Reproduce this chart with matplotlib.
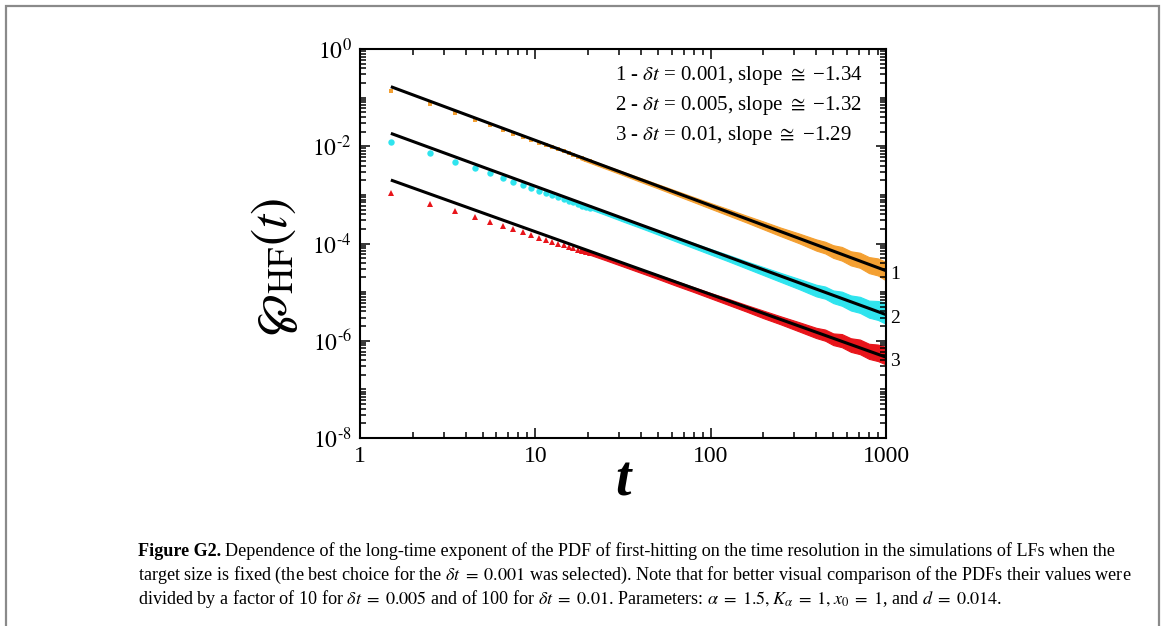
import matplotlib
matplotlib.use("Agg")
import math
import matplotlib.pyplot as plt
from matplotlib.patches import Rectangle
from matplotlib.ticker import FixedLocator, LogLocator, FuncFormatter, NullFormatter

plt.rcParams['font.family'] = ['Liberation Serif', 'DejaVu Serif']
plt.rcParams['mathtext.fontset'] = 'stix'

# early, well separated points (t = n + 1/2)
t_early = [1.5, 2.5, 3.5, 4.5, 5.5, 6.5, 7.5, 8.5, 9.5, 10.5,
           11.5, 12.5, 13.5, 14.5, 15.5, 16.5, 17.5, 18.5, 19.5, 20.5]
pdf1_early = [0.1378, 0.0738, 0.0486, 0.0347, 0.0271, 0.0219, 0.01827, 0.01563, 0.01346, 0.01188,
              0.01052, 0.00952, 0.00859, 0.00780, 0.00713, 0.00656, 0.00606, 0.00563, 0.00524, 0.00490]
pdf2_early = [0.01233, 0.00713, 0.00481, 0.00362, 0.00278, 0.002255, 0.001867, 0.001583, 0.001382, 0.001228,
              0.001089, 0.000985, 0.000890, 0.000819, 0.000750, 0.000699, 0.000646, 0.000600, 0.000567, 0.000530]
pdf3_early = [1.070e-3, 6.58e-4, 4.67e-4, 3.57e-4, 2.83e-4, 2.317e-4, 1.975e-4, 1.704e-4, 1.494e-4, 1.328e-4,
              1.197e-4, 1.088e-4, 9.97e-5, 9.19e-5, 8.53e-5, 7.98e-5, 7.47e-5, 7.03e-5, 6.65e-5, 6.23e-5]

# dense, noisy part: upper / lower edge of the cloud of points
t_band = [18, 25, 32, 40, 50, 63, 80, 100, 125, 160, 200,
          250, 320, 400, 450, 500, 560, 630, 710, 800, 900, 1000]
pdf1_hi = [6.22e-3, 4.06e-3, 2.945e-3, 2.211e-3, 1.658e-3, 1.231e-3, 9.04e-4, 6.78e-4, 5.14e-4, 3.74e-4, 2.837e-4,
           2.129e-4, 1.601e-4, 1.215e-4, 1.086e-4, 9.22e-5, 8.49e-5, 6.92e-5, 6.46e-5, 5.26e-5, 4.93e-5, 4.18e-5]
pdf1_lo = [5.42e-3, 3.493e-3, 2.507e-3, 1.839e-3, 1.363e-3, 9.89e-4, 7.10e-4, 5.20e-4, 3.815e-4, 2.709e-4, 1.963e-4,
           1.423e-4, 1.010e-4, 7.15e-5, 6.25e-5, 5.07e-5, 4.45e-5, 3.55e-5, 3.165e-5, 2.46e-5, 2.20e-5, 1.743e-5]
pdf2_hi = [6.92e-4, 4.487e-4, 3.277e-4, 2.47e-4, 1.861e-4, 1.387e-4, 1.024e-4, 7.71e-5, 5.88e-5, 4.295e-5, 3.273e-5,
           2.495e-5, 1.864e-5, 1.420e-5, 1.303e-5, 1.083e-5, 1.022e-5, 8.555e-6, 8.01e-6, 6.69e-6, 6.57e-6, 6.13e-6]
pdf2_lo = [6.03e-4, 3.908e-4, 2.789e-4, 2.077e-4, 1.530e-4, 1.115e-4, 8.04e-5, 5.92e-5, 4.36e-5, 3.075e-5, 2.239e-5,
           1.629e-5, 1.149e-5, 8.18e-6, 7.33e-6, 5.95e-6, 5.245e-6, 4.19e-6, 3.745e-6, 2.987e-6, 2.677e-6, 2.225e-6]
pdf3_hi = [8.00e-5, 5.36e-5, 3.944e-5, 2.992e-5, 2.269e-5, 1.704e-5, 1.266e-5, 9.61e-6, 7.37e-6, 5.43e-6, 4.16e-6,
           3.193e-6, 2.404e-6, 1.845e-6, 1.698e-6, 1.416e-6, 1.372e-6, 1.126e-6, 1.058e-6, 8.66e-7, 8.35e-7, 7.46e-7]
pdf3_lo = [6.89e-5, 4.563e-5, 3.319e-5, 2.489e-5, 1.866e-5, 1.369e-5, 1.006e-5, 7.46e-6, 5.53e-6, 3.975e-6, 2.912e-6,
           2.184e-6, 1.552e-6, 1.137e-6, 1.0e-6, 8.15e-7, 7.37e-7, 5.91e-7, 5.30e-7, 4.24e-7, 3.815e-7, 3.255e-7]

# power-law fits
t_fit = [1.5, 1000]
fit1 = [0.168, 2.76e-5]
fit2 = [0.0184, 3.45e-6]
fit3 = [2.02e-3, 4.60e-7]

legend_lines = [r"1 - $\delta t$ = 0.001, slope $\cong$ −1.34",
                r"2 - $\delta t$ = 0.005, slope $\cong$ −1.32",
                r"3 - $\delta t$ = 0.01, slope $\cong$ −1.29"]
curve_names = ["1", "2", "3"]

c1, c2, c3 = "#f4a032", "#2fe4ee", "#e8141a"

fig = plt.figure(figsize=(11.65, 6.26), dpi=100)
ax = fig.add_axes([360 / 1165, 1 - 438 / 626, 526 / 1165, 389 / 626])

# noisy clouds
ax.fill_between(t_band, pdf1_lo, pdf1_hi, color=c1, lw=0.8, edgecolor=c1)
ax.fill_between(t_band, pdf2_lo, pdf2_hi, color=c2, lw=0.8, edgecolor=c2)
ax.fill_between(t_band, pdf3_lo, pdf3_hi, color=c3, lw=0.8, edgecolor=c3)

ax.plot(t_early, pdf1_early, 's', color=c1, ms=3.2, mew=0)
ax.plot(t_early, pdf2_early, 'o', color=c2, ms=4.6, mew=0)
ax.plot(t_early, pdf3_early, '^', color=c3, ms=5.0, mew=0)

for fit, name in zip([fit1, fit2, fit3], curve_names):
    ax.plot(t_fit, fit, color='black', lw=2.2, solid_capstyle='butt')
    ax.annotate(name, xy=(t_fit[-1], fit[-1]), xytext=(3, -3), textcoords='offset points',
                va='center', ha='left', fontsize=14, annotation_clip=False)

ax.set_xscale('log')
ax.set_yscale('log')
ax.set_xlim(1, 1000)
ax.set_ylim(1e-8, 1)

ax.xaxis.set_major_locator(FixedLocator([1, 10, 100, 1000]))
ax.xaxis.set_minor_locator(LogLocator(base=10, subs=range(2, 10), numticks=20))
ax.xaxis.set_major_formatter(FuncFormatter(lambda v, p: "%d" % round(v)))
ax.xaxis.set_minor_formatter(NullFormatter())
ax.yaxis.set_major_locator(FixedLocator([1e-8, 1e-6, 1e-4, 1e-2, 1]))
ax.yaxis.set_minor_locator(LogLocator(base=10, subs=range(1, 10), numticks=20))
ax.yaxis.set_major_formatter(FuncFormatter(lambda v, p: r"$10^{\mathrm{%s}}$" % str(round(math.log10(v))).replace('-', '\\text{-}')))
ax.yaxis.set_minor_formatter(NullFormatter())

ax.tick_params(which='both', direction='in', top=True, right=True, labelsize=17, width=1.1)
ax.tick_params(which='major', length=7, pad=6)
ax.tick_params(which='minor', length=4)
for s in ax.spines.values():
    s.set_linewidth(1.5)

ax.set_xlabel("t", fontsize=40, fontstyle='italic', fontweight='bold')
ax.xaxis.set_label_coords(0.5, -0.045)
ax.set_ylabel(r"$\wp_{\mathrm{HF}}(t)$", fontsize=37)
ax.yaxis.set_label_coords(-0.115, 0.44)

for i, line in enumerate(legend_lines):
    ax.text(0.485, 0.931 - i * 0.0772, line, transform=ax.transAxes, fontsize=15,
            ha='left', va='center')

# caption
cap_size = 13.1
bold = fig.text(138 / 1165, 1 - 556 / 626, "Figure G2.", fontsize=cap_size, fontweight='bold',
                ha='left', va='baseline')
fig.canvas.draw()
rend = fig.canvas.get_renderer()
bb = bold.get_window_extent(rend)
fig.text(bb.x1 / 1165 + 0.003, 1 - 556 / 626,
         "Dependence of the long-time exponent of the PDF of first-hitting on the time resolution "
         "in the simulations of LFs when the", fontsize=cap_size, ha='left', va='baseline')
fig.text(138 / 1165, 1 - 580 / 626,
         r"target size is fixed (the best choice for the $\delta t\;=\;0.001$ was selected). Note that for "
         r"better visual comparison of the PDFs their values were", fontsize=cap_size, ha='left', va='baseline')
fig.text(138 / 1165, 1 - 604 / 626,
         r"divided by a factor of 10 for $\delta t\;=\;0.005$ and of 100 for $\delta t\;=\;0.01$. "
         r"Parameters: $\alpha\;=\;1.5, K_\alpha\;=\;1, x_0\;=\;1$, and $d\;=\;0.014$.",
         fontsize=cap_size, ha='left', va='baseline')

fig.patches.append(Rectangle((6 / 1165, -0.02), 1153 / 1165, 1.02 - 6 / 626, transform=fig.transFigure,
                             fill=False, edgecolor='#8a8a8a', lw=1.6, figure=fig))

fig.savefig("out.png", dpi=100)
